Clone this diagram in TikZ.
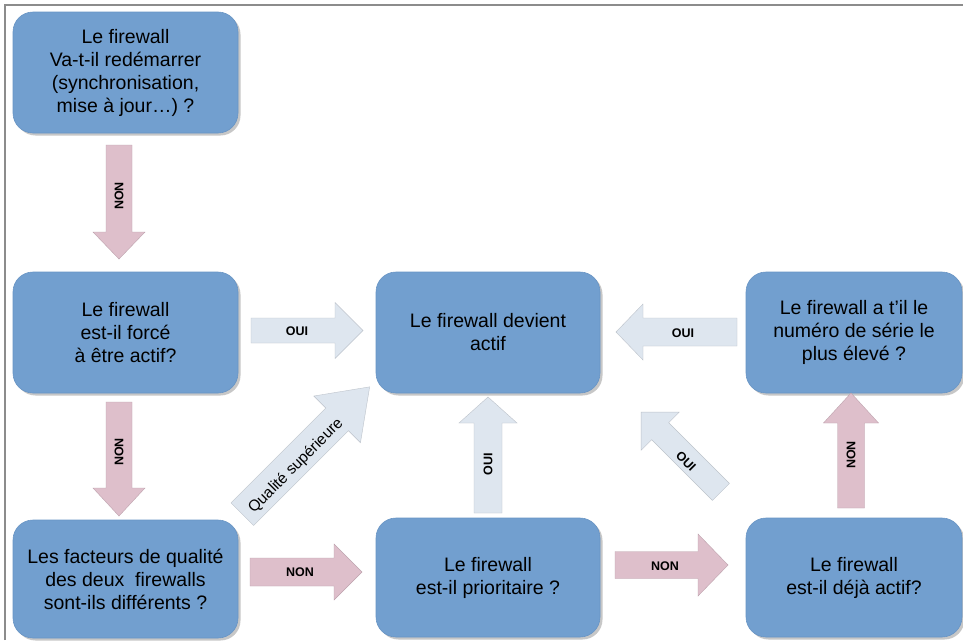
\documentclass[tikz,border=0pt]{standalone}
\usepackage{fontspec}
\setmainfont{Liberation Sans}
\usetikzlibrary{shadows}
\definecolor{boxblue}{RGB}{114,159,207}
\definecolor{boxedge}{RGB}{104,148,196}
\definecolor{pinkarr}{RGB}{222,191,203}
\definecolor{bluearr}{RGB}{222,230,239}
\definecolor{framegray}{RGB}{140,140,140}
\tikzset{
  qbox/.style={rectangle, rounded corners=20pt, fill=boxblue, draw=boxedge, line width=0.6pt,
    align=center, font=\fontsize{19.5}{23}\selectfont, inner sep=2pt,
    copy shadow={shadow xshift=2.5pt, shadow yshift=-2.5pt, fill=black!22, draw=none}},
  pinkfill/.style={fill=pinkarr, draw=pinkarr!85!black, line width=0.4pt},
  bluefill/.style={fill=bluearr, draw=bluearr!85!black, line width=0.4pt},
  arrlabel/.style={font=\fontsize{12.5}{14}\selectfont\bfseries, inner sep=0pt},
}
% #1 centre, #2 angle, #3 length, #4 shaft half width, #5 head half width, #6 head length, #7 style
\newcommand\blockarr[7]{%
  \begin{scope}[shift={#1}, rotate=#2]
    \path[#7] (-#3/2,-#4) -- (#3/2-#6,-#4) -- (#3/2-#6,-#5) -- (#3/2,0)
      -- (#3/2-#6,#5) -- (#3/2-#6,#4) -- (-#3/2,#4) -- cycle;
  \end{scope}}
\begin{document}
\begin{tikzpicture}[x=1pt,y=-1pt]
\useasboundingbox (0,0) rectangle (963,640);
\fill[white] (0,0) rectangle (963,640);
\draw[framegray, line width=1.5pt] (5,640) -- (5,5) -- (963,5);

% boxes
\node[qbox, minimum width=225pt, minimum height=121pt] (restart) at (125.5,72.5)
  {Le firewall\\Va-t-il redémarrer\\(synchronisation,\\mise à jour…) ?};
\node[qbox, minimum width=225pt, minimum height=121pt] (force) at (125.5,332.5)
  {Le firewall\\est-il forcé\\à être actif?};
\node[qbox, minimum width=225pt, minimum height=118pt] (qual) at (125.5,579)
  {Les facteurs de qualité\\des deux\ \ firewalls\\sont-ils différents ?};
\node[qbox, minimum width=224pt, minimum height=121pt] (actif) at (488,332.5)
  {Le firewall devient\\actif};
\node[qbox, minimum width=224pt, minimum height=119pt] (prio) at (488,577.5)
  {Le firewall\\est-il prioritaire ?};
\node[qbox, minimum width=216pt, minimum height=121pt] (serie) at (854,332.5)
  {Le firewall a t'il le\\numéro de série le\\plus élevé ?};
\node[qbox, minimum width=216pt, minimum height=119pt] (deja) at (854,577.5)
  {Le firewall\\est-il déjà actif?};

% block arrows
\blockarr{(119,202)}{-90}{114}{13}{26}{27}{pinkfill}
\node[arrlabel, rotate=90] (l1) at (119,196) {NON};

\blockarr{(119,459)}{-90}{114}{13}{26}{28}{pinkfill}
\node[arrlabel, rotate=90] (l2) at (119,452) {NON};

\blockarr{(307,330.5)}{0}{112}{12.5}{28}{28}{bluefill}
\node[arrlabel] (l3) at (297,331) {OUI};

\blockarr{(306,450.5)}{45}{180}{16}{33}{46}{bluefill}
\node[inner sep=0pt, rotate=45, font=\fontsize{15.5}{17}\selectfont] (l4) at (296,466) {Qualité supérieure};

\blockarr{(488,455)}{90}{116}{14}{29}{26}{bluefill}
\node[arrlabel, rotate=90] (l5) at (488,464) {OUI};

\blockarr{(676.5,332)}{180}{121}{14}{28}{27}{bluefill}
\node[arrlabel] (l6) at (683,333) {OUI};

\blockarr{(681,452)}{135}{113}{12}{27}{27}{bluefill}
\node[arrlabel, rotate=-45] (l7) at (686,461) {OUI};

\blockarr{(306,572)}{0}{112}{14}{28}{28}{pinkfill}
\node[arrlabel] (l8) at (300,572) {NON};

\blockarr{(671.5,565)}{0}{113}{13.5}{31}{30}{pinkfill}
\node[arrlabel] (l9) at (665,566) {NON};

\blockarr{(851,450.5)}{90}{115}{13.5}{27.5}{30}{pinkfill}
\node[arrlabel, rotate=90] (l10) at (851,455) {NON};
\end{tikzpicture}
\end{document}
